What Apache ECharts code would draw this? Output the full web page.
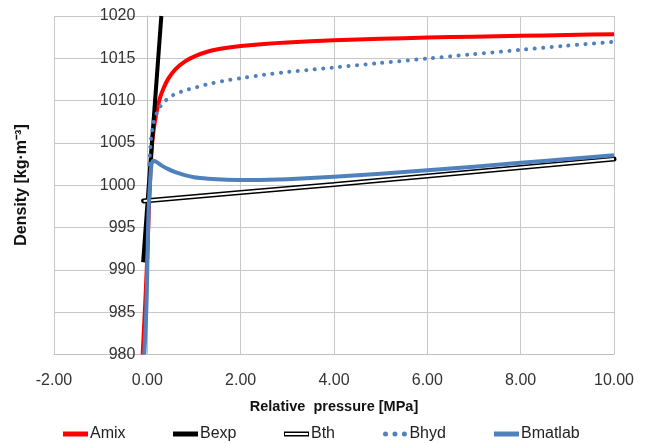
<!DOCTYPE html>
<html>
<head>
<meta charset="utf-8">
<script src="https://cdn.jsdelivr.net/npm/echarts@6/dist/echarts.min.js"></script>
<style>
html,body{margin:0;padding:0;background:#fff;}
#chart{width:645px;height:443px;}
</style>
</head>
<body>
<div id="chart"></div>
<script>
// ---- data (relative pressure [MPa] / density [kg·m-3]) ----
var amixP = [-0.1, -0.05, -0.01, 0.04, 0.09, 0.13, 0.2, 0.27, 0.35, 0.45, 0.6, 0.8, 1.0, 1.3, 1.6, 2.0, 2.5, 3.0, 4, 5, 6, 7, 8, 9, 10];
var amixD = [980, 985.5, 990.4, 998.2, 1004.1, 1006.3, 1008.7, 1010.3, 1011.5, 1012.6, 1013.7, 1014.6, 1015.2, 1015.8, 1016.15, 1016.45, 1016.7, 1016.88, 1017.12, 1017.3, 1017.45, 1017.56, 1017.66, 1017.76, 1017.85];

var bexpP = [-0.09, 0.3];
var bexpD = [990.9, 1020];

var bthP = [-0.08, 2, 4, 6, 8, 10];
var bthD = [998.15, 999.15, 1000.1, 1001.1, 1002.1, 1003.1];

var bhydP = [0.04, 0.08, 0.13, 0.2, 0.3, 0.45, 0.6, 0.8, 1.0, 1.3, 1.7, 2.0, 2.5, 3.0, 3.5, 4, 5, 6, 7, 8, 9, 10];
var bhydD = [1002.5, 1005.5, 1007.3, 1008.5, 1009.5, 1010.3, 1010.8, 1011.2, 1011.5, 1011.95, 1012.4, 1012.65, 1013.05, 1013.38, 1013.65, 1013.92, 1014.45, 1014.97, 1015.5, 1016.0, 1016.5, 1016.95];

var bmatP = [-0.065, -0.03, -0.01, 0.01, 0.03, 0.06, 0.09, 0.12, 0.18, 0.3, 0.45, 0.6, 0.8, 1.0, 1.3, 1.7, 2.2, 2.6, 3.0, 4, 5, 6, 7, 8, 9, 10];
var bmatD = [980, 984, 987.5, 993.5, 997.5, 1000.5, 1002.5, 1002.9, 1002.8, 1002.35, 1001.9, 1001.55, 1001.2, 1000.95, 1000.78, 1000.66, 1000.62, 1000.65, 1000.72, 1000.99, 1001.37, 1001.78, 1002.2, 1002.65, 1003.1, 1003.55];

var seriesNames = ['Amix', 'Bexp', 'Bth', 'Bhyd', 'Bmatlab'];
var xLabelTitle = 'Relative  pressure [MPa]';
var yLabelTitle = 'Density [kg\u00b7m\u207b\u00b3]';

function zip(a, b) { return a.map(function (v, i) { return [v, b[i]]; }); }

var FONT = 'Liberation Sans';
var RED = '#ff0000', BLACK = '#000000', BLUE = '#4f81bd';

var legendIcons = {
  Amix: 'path://M0,0H25V5H0Z',
  Bexp: 'path://M0,0H25V5H0Z',
  Bth: 'path://M0,0H25V5H0Z M1,1.6V3.4H24V1.6Z',
  Bhyd: 'path://M0,2.5a2.2,2.2 0 1,0 4.4,0a2.2,2.2 0 1,0 -4.4,0Z M8.3,2.5a2.2,2.2 0 1,0 4.4,0a2.2,2.2 0 1,0 -4.4,0Z M16.6,2.5a2.2,2.2 0 1,0 4.4,0a2.2,2.2 0 1,0 -4.4,0Z',
  Bmatlab: 'path://M0,0H25V5H0Z'
};
var legendLefts = [63, 173, 284, 383, 494];

var legends = seriesNames.map(function (n, i) {
  return {
    left: legendLefts[i], top: 426, padding: 0,
    itemWidth: 25, itemHeight: 5, itemGap: 0,
    data: [{ name: n, icon: legendIcons[n] }],
    textStyle: { fontFamily: FONT, fontSize: 16, color: '#222', padding: [0, 0, 0, -3] },
    selectedMode: false
  };
});

var chart = echarts.init(document.getElementById('chart'), null, { renderer: 'canvas' });
chart.setOption({
  animation: false,
  backgroundColor: '#ffffff',
  grid: { left: 54, right: 31, top: 16, bottom: 88.5, containLabel: false },
  legend: legends,
  xAxis: {
    type: 'value', min: -2, max: 10, interval: 2,
    name: xLabelTitle, nameLocation: 'middle', nameGap: 45,
    nameTextStyle: { fontFamily: FONT, fontSize: 14.5, fontWeight: 'bold', color: '#111' },
    axisLine: { show: true, onZero: false, lineStyle: { color: '#bfbfbf', width: 1 } },
    axisTick: { show: false },
    axisLabel: { fontFamily: FONT, fontSize: 16, color: '#333', margin: 18,
      formatter: function (v) { return v.toFixed(2); } },
    splitLine: { show: true, lineStyle: { color: '#c8c8c8', width: 1 } }
  },
  yAxis: {
    type: 'value', min: 980, max: 1020, interval: 5, offset: -93.4,
    axisLine: { show: true, onZero: false, lineStyle: { color: '#bfbfbf', width: 1 } },
    axisTick: { show: false },
    axisLabel: { fontFamily: FONT, fontSize: 16, color: '#333', margin: 12,
      formatter: function (v) { return String(v); } },
    splitLine: { show: true, lineStyle: { color: '#c8c8c8', width: 1 } }
  },
  graphic: [{
    type: 'text', x: 22, y: 185, rotation: Math.PI / 2,
    style: { text: yLabelTitle, fontFamily: FONT, fontSize: 16, fontWeight: 'bold', fill: '#111',
      align: 'center', verticalAlign: 'middle' }
  }],
  series: [
    { name: 'Amix', type: 'line', data: zip(amixP, amixD), showSymbol: false, symbol: 'none',
      smooth: 0.15, color: RED, lineStyle: { color: RED, width: 4, join: 'round' }, z: 2 },
    { name: 'Bexp', type: 'line', data: zip(bexpP, bexpD), showSymbol: false, symbol: 'none',
      color: BLACK, lineStyle: { color: BLACK, width: 4 }, z: 3 },
    { name: 'Bth', type: 'line', data: zip(bthP, bthD), showSymbol: false, symbol: 'none',
      color: BLACK, lineStyle: { color: BLACK, width: 5, cap: 'round' }, z: 4 },
    { name: 'Bth_inner', type: 'line', data: zip(bthP, bthD), showSymbol: false, symbol: 'none',
      color: '#fff', lineStyle: { color: '#ffffff', width: 2 }, z: 5, silent: true },
    { name: 'Bhyd', type: 'line', data: zip(bhydP, bhydD), showSymbol: false, symbol: 'none',
      smooth: 0.15, color: BLUE,
      lineStyle: { color: BLUE, width: 4, type: [0.1, 8.4], cap: 'round' }, z: 6 },
    { name: 'Bmatlab', type: 'line', data: zip(bmatP, bmatD), showSymbol: false, symbol: 'none',
      smooth: 0.15, color: BLUE, lineStyle: { color: BLUE, width: 4, join: 'round' }, z: 7 }
  ]
});
</script>
</body>
</html>
